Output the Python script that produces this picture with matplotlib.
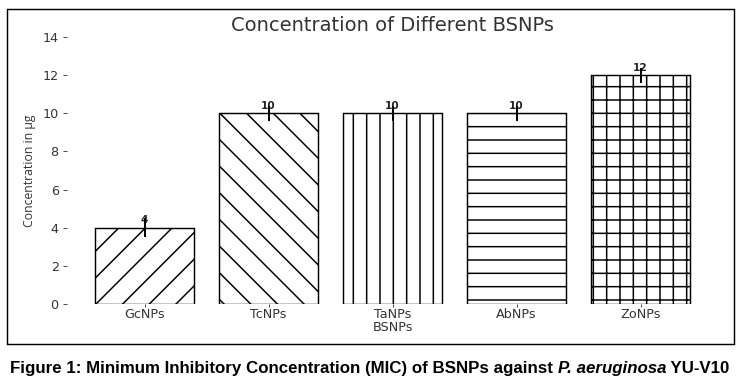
import matplotlib
matplotlib.use("Agg")
import matplotlib.pyplot as plt
from matplotlib import font_manager
from matplotlib.patches import Rectangle

categories = ["GcNPs", "TcNPs", "TaNPs", "AbNPs", "ZoNPs"]
values = [4, 10, 10, 10, 12]
errors = [0.5, 0.4, 0.4, 0.4, 0.4]
hatches = ["/", "\\", "|", "-", "+"]
yticks = [0, 2, 4, 6, 8, 10, 12, 14]

installed = {f.name for f in font_manager.fontManager.ttflist}
def pick(*names):
    for n in names:
        if n in installed:
            return n
    return "DejaVu Sans"

narrow = pick("Liberation Sans Narrow", "Open Sans", "DejaVu Sans")

DPI = 80
W, H = 741, 391
plt.rcParams["hatch.linewidth"] = 1.35
plt.rcParams["font.family"] = ["DejaVu Sans"]

fig = plt.figure(figsize=(W / DPI, H / DPI), dpi=DPI)
L, R, T, B = 67, 718, 37, 304
ax = fig.add_axes([L / W, 1 - B / H, (R - L) / W, (B - T) / H])

x = range(len(categories))
ax.bar(x, values, width=0.8, color="white", edgecolor="black",
       linewidth=1.3, hatch=hatches, zorder=2)
for xi, v in zip(x, values):
    ax.annotate(str(v), xy=(xi, v), xytext=(0, 4), textcoords="offset points",
                ha="center", va="baseline", fontsize=9.5, fontweight="bold",
                color="#222222", zorder=3)
ax.errorbar(list(x), values, yerr=errors, fmt="none", ecolor="black",
            elinewidth=1.8, capsize=0, zorder=4)

ax.set_xlim(-0.625, 4.625)
ax.set_ylim(0, 14)
ax.set_yticks(yticks)
ax.set_xticks(list(x))
ax.set_xticklabels(categories)
for s in ax.spines.values():
    s.set_visible(False)
ax.tick_params(axis="y", length=3.5, width=0.8, pad=4, labelsize=11.5,
               color="#333333", labelcolor="#333333")
ax.tick_params(axis="x", length=3, width=0.8, pad=1, labelsize=11.5,
               color="#333333", labelcolor="#333333")
ax.set_xlabel("BSNPs", fontsize=11.5, color="#333333", labelpad=0)
ax.set_ylabel("Concentration in µg", fontsize=11, family=narrow,
              color="#333333", labelpad=6)
ax.set_title("Concentration of Different BSNPs", fontsize=17.5,
             color="#333333", pad=5)

# outer frame
fig.patches.append(Rectangle((7 / W, 1 - 344 / H), (734 - 7) / W, (344 - 9) / H,
                             transform=fig.transFigure, fill=False,
                             edgecolor="black", linewidth=1.3))

# caption
cap_font = pick("Liberation Sans Narrow", "Liberation Sans")
CS = 15.2
t1 = fig.text(10 / W, 1 - 373 / H,
              "Figure 1: Minimum Inhibitory Concentration (MIC) of BSNPs against ",
              fontsize=CS, fontweight="bold", family=cap_font, va="baseline")
t2 = fig.text(0, 0, "P. aeruginosa", fontsize=CS, fontweight="bold",
              fontstyle="italic", family=cap_font, va="baseline")
t3 = fig.text(0, 0, " YU-V10", fontsize=CS, fontweight="bold",
              family=cap_font, va="baseline")
fig.canvas.draw()
r = fig.canvas.get_renderer()
e1 = t1.get_window_extent(r)
t2.set_position((e1.x1 / W, 1 - 373 / H))
fig.canvas.draw()
e2 = t2.get_window_extent(r)
t3.set_position((e2.x1 / W, 1 - 373 / H))

fig.savefig("out.png", dpi=DPI)
